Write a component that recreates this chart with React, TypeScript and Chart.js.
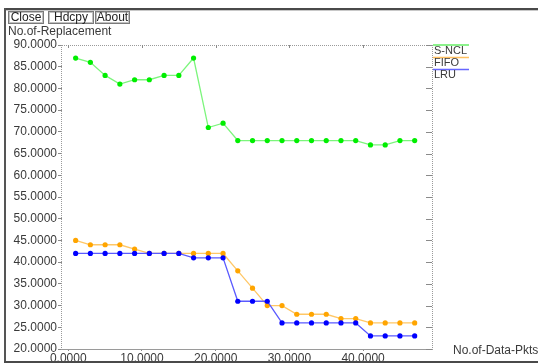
import React, { useEffect, useRef } from "react";
import { Chart, registerables } from "chart.js";

Chart.register(...registerables);

const xValues = [1, 3, 5, 7, 9, 11, 13, 15, 17, 19, 21, 23, 25, 27, 29, 31, 33, 35, 37, 39, 41, 43, 45, 47];
const snclValues = [87, 86, 83, 81, 82, 82, 83, 83, 87, 71, 72, 68, 68, 68, 68, 68, 68, 68, 68, 68, 67, 67, 68, 68];
const fifoValues = [45, 44, 44, 44, 43, 42, 42, 42, 42, 42, 42, 38, 34, 30, 30, 28, 28, 28, 27, 27, 26, 26, 26, 26];
const lruValues = [42, 42, 42, 42, 42, 42, 42, 42, 41, 41, 41, 31, 31, 31, 26, 26, 26, 26, 26, 26, 23, 23, 23, 23];
const yTickValues = [20, 25, 30, 35, 40, 45, 50, 55, 60, 65, 70, 75, 80, 85, 90];
const xTickValues = [0, 10, 20, 30, 40];
const seriesNames = ["S-NCL", "FIFO", "LRU"];
const buttonLabels = ["Close", "Hdcpy", "About"];

const FONT = "'Liberation Sans', Arial, sans-serif";
const TEXT = "#3a3a3a";

const decorPlugin = {
  id: "decor",
  afterDraw(chart: any) {
    const ctx = chart.ctx as CanvasRenderingContext2D;
    const { left, right, top, bottom } = chart.chartArea;
    const xs = chart.scales.x;
    const ys = chart.scales.y;
    ctx.save();

    // window frame
    ctx.fillStyle = "#4a4a4a";
    ctx.fillRect(4, 8, 534, 2);
    ctx.fillStyle = "#c8c8c8";
    ctx.fillRect(6, 10, 532, 1);
    ctx.fillStyle = "#555";
    ctx.fillRect(4, 8, 2, 354);
    ctx.fillStyle = "#4a4a4a";
    ctx.fillRect(4, 361, 534, 2);

    // buttons
    const boxes = [
      [8, 44],
      [48, 94],
      [95, 130],
    ];
    ctx.font = `12px ${FONT}`;
    ctx.textBaseline = "middle";
    ctx.textAlign = "center";
    buttonLabels.forEach((lab, i) => {
      const [x0, x1] = boxes[i];
      ctx.fillStyle = "#ffffff";
      ctx.fillRect(x0, 11, x1 - x0, 12);
      ctx.strokeStyle = "#7a7a7a";
      ctx.lineWidth = 1;
      ctx.strokeRect(x0 + 0.5, 11.5, x1 - x0 - 1, 12);
      ctx.strokeStyle = "#c0c0c0";
      ctx.strokeRect(x0 + 1.5, 12.5, x1 - x0 - 3, 10);
      ctx.fillStyle = "#222";
      ctx.fillText(lab, (x0 + x1) / 2, 18);
    });

    // axis titles
    ctx.textAlign = "left";
    ctx.fillStyle = TEXT;
    ctx.fillText("No.of-Replacement", 8, 32);
    ctx.fillText("No.of-Data-Pkts", 453, 351);

    // plot frame
    ctx.strokeStyle = "#9a9a9a";
    ctx.lineWidth = 1;
    ctx.setLineDash([1, 1]);
    ctx.beginPath();
    ctx.moveTo(left, top + 0.5);
    ctx.lineTo(right, top + 0.5);
    ctx.moveTo(left - 0.5, top);
    ctx.lineTo(left - 0.5, bottom);
    ctx.moveTo(right + 0.5, top);
    ctx.lineTo(right + 0.5, bottom);
    ctx.stroke();
    ctx.setLineDash([]);
    ctx.beginPath();
    ctx.moveTo(left - 1, bottom + 0.5);
    ctx.lineTo(right + 1, bottom + 0.5);
    ctx.stroke();

    // inner ticks on top and right
    ctx.strokeStyle = "#8a8a8a";
    ctx.beginPath();
    xTickValues.forEach((v) => {
      const px = Math.round(xs.getPixelForValue(v)) + 0.5;
      ctx.moveTo(px, top);
      ctx.lineTo(px, top + 3);
    });
    yTickValues.forEach((v) => {
      const py = Math.round(ys.getPixelForValue(v)) + 0.5;
      ctx.moveTo(right - 6, py);
      ctx.lineTo(right, py);
    });
    ctx.stroke();

    // legend
    const legendColors = ["#66ee66", "#ffc060", "#6666ff"];
    const legendY = [45, 57.5, 69.5];
    ctx.font = `11px ${FONT}`;
    seriesNames.forEach((name, i) => {
      ctx.strokeStyle = legendColors[i];
      ctx.lineWidth = 1.5;
      ctx.beginPath();
      ctx.moveTo(433, legendY[i]);
      ctx.lineTo(469, legendY[i]);
      ctx.stroke();
      ctx.fillStyle = TEXT;
      ctx.fillText(name, 434, legendY[i] + 5.5);
    });

    ctx.restore();
  },
};

export default function App() {
  const ref = useRef<HTMLCanvasElement | null>(null);

  useEffect(() => {
    if (!ref.current) return;
    const mk = (vals: number[]) => vals.map((v, i) => ({ x: xValues[i], y: v }));
    const chart = new Chart(ref.current, {
      type: "line",
      data: {
        datasets: [
          {
            label: seriesNames[0],
            data: mk(snclValues),
            borderColor: "#7cf57c",
            backgroundColor: "#00ee00",
            pointBackgroundColor: "#00ee00",
            pointBorderColor: "#00ee00",
            borderWidth: 1.3,
            pointRadius: 2.6,
            pointBorderWidth: 0,
            order: 2,
          },
          {
            label: seriesNames[1],
            data: mk(fifoValues),
            borderColor: "#ffc766",
            backgroundColor: "#ffa500",
            pointBackgroundColor: "#ffa500",
            pointBorderColor: "#ffa500",
            borderWidth: 1.3,
            pointRadius: 2.6,
            pointBorderWidth: 0,
            order: 1,
          },
          {
            label: seriesNames[2],
            data: mk(lruValues),
            borderColor: "#5a5aff",
            backgroundColor: "#0000ff",
            pointBackgroundColor: "#0000ff",
            pointBorderColor: "#0000ff",
            borderWidth: 1.3,
            pointRadius: 2.6,
            pointBorderWidth: 0,
            order: 0,
          },
        ],
      },
      options: {
        animation: false,
        responsive: false,
        devicePixelRatio: 1,
        layout: { padding: { left: 0, top: 45, right: 106, bottom: 0 } },
        plugins: { legend: { display: false }, tooltip: { enabled: false } },
        scales: {
          x: {
            type: "linear",
            min: -0.85,
            max: 49.35,
            afterBuildTicks: (s: any) => {
              s.ticks = xTickValues.map((v) => ({ value: v }));
            },
            afterFit: (s: any) => {
              s.height = 14;
            },
            grid: { drawOnChartArea: false, drawTicks: true, tickLength: 2, color: "#8a8a8a" },
            border: { display: false },
            ticks: {
              padding: 0,
              maxRotation: 0,
              autoSkip: false,
              color: TEXT,
              font: { family: FONT, size: 12 },
              callback: (v: any) => Number(v).toFixed(4),
            },
          },
          y: {
            type: "linear",
            min: 20,
            max: 90,
            afterBuildTicks: (s: any) => {
              s.ticks = yTickValues.map((v) => ({ value: v }));
            },
            afterFit: (s: any) => {
              s.width = 62;
            },
            grid: { drawOnChartArea: false, drawTicks: true, tickLength: 4, color: "#8a8a8a" },
            border: { display: false },
            ticks: {
              padding: 1,
              autoSkip: false,
              color: TEXT,
              font: { family: FONT, size: 12 },
              callback: (v: any) => Number(v).toFixed(4),
            },
          },
        },
      },
      plugins: [decorPlugin],
    } as any);
    return () => chart.destroy();
  }, []);

  return (
    <div style={{ position: "fixed", left: 0, top: 0, width: 538, height: 363, background: "#fff" }}>
      <canvas ref={ref} width={538} height={363} style={{ display: "block", width: 538, height: 363 }} />
    </div>
  );
}
